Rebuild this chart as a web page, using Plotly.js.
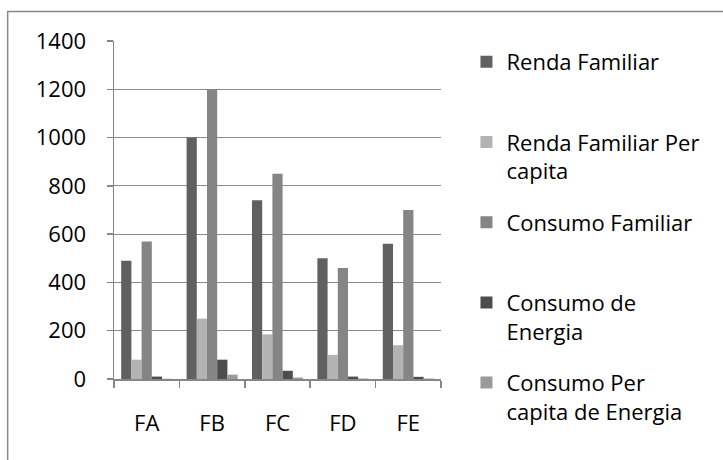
<!DOCTYPE html>
<html>
<head>
<meta charset="utf-8">
<script src="https://cdn.plot.ly/plotly-3.0.1.min.js"></script>
<style>
  html, body { margin: 0; padding: 0; background: #ffffff; }
  #chart { width: 723px; height: 460px; }
</style>
</head>
<body>
<div id="chart"></div>
<script>
// ---- Data ----
var categories = ['FA', 'FB', 'FC', 'FD', 'FE'];
var rendaFamiliar = [490, 1000, 740, 500, 560];
var rendaFamiliarPerCapita = [80, 250, 185, 100, 140];
var consumoFamiliar = [570, 1200, 850, 460, 700];
var consumoEnergia = [10, 80, 34, 10, 9];
var consumoPerCapitaEnergia = [1, 18, 6, 2, 2];
var seriesNames = [
  'Renda Familiar<br>\u00a0',
  'Renda Familiar Per<br>capita',
  'Consumo Familiar<br>\u00a0',
  'Consumo de<br>Energia',
  'Consumo Per<br>capita de Energia'
];
var yTicks = [0, 200, 400, 600, 800, 1000, 1200, 1400];

var seriesValues = [rendaFamiliar, rendaFamiliarPerCapita, consumoFamiliar, consumoEnergia, consumoPerCapitaEnergia];
var seriesColors = ['#606060', '#b3b3b3', '#858585', '#4d4d4d', '#9a9a9a'];

var FONT = '"Open Sans", "DejaVu Sans", sans-serif';

var traces = seriesValues.map(function (vals, i) {
  return {
    type: 'bar',
    name: seriesNames[i],
    x: categories,
    y: vals,
    legendgroup: 'g' + i,
    marker: { color: seriesColors[i], line: { width: 0 } }
  };
});

// plot area pixel geometry
var L = 114, R = 441.5, T = 41, B = 379.5;
var W = 723, H = 460;
function px2x(px) { return (px - L) / (R - L); }
function px2y(py) { return (B - py) / (B - T); }

var layout = {
  width: W,
  height: H,
  margin: { l: L, r: W - R, t: T, b: H - B, pad: 0 },
  paper_bgcolor: '#ffffff',
  plot_bgcolor: '#ffffff',
  font: { family: FONT, size: 22, color: '#000000' },
  barmode: 'group',
  bargap: 0.22,
  bargroupgap: 0,
  showlegend: true,
  legend: {
    x: px2x(467),
    y: px2y(41),
    xanchor: 'left',
    yanchor: 'top',
    valign: 'top',
    tracegroupgap: 20,
    maxheight: 460,
    font: { family: FONT, size: 22, color: '#000000' },
    bgcolor: 'rgba(0,0,0,0)',
    borderwidth: 0
  },
  xaxis: {
    type: 'category',
    showgrid: false,
    showline: true,
    linecolor: '#868686',
    linewidth: 1.5,
    ticks: 'outside',
    tickson: 'boundaries',
    ticklen: 7,
    tickwidth: 1.5,
    tickcolor: '#868686',
    ticklabelstandoff: 24,
    tickfont: { family: FONT, size: 22, color: '#000000' },
    zeroline: false,
    fixedrange: true
  },
  yaxis: {
    range: [0, 1400],
    tickvals: yTicks,
    ticktext: yTicks.map(String),
    showgrid: true,
    gridcolor: '#8c8c8c',
    gridwidth: 1.2,
    showline: true,
    linecolor: '#868686',
    linewidth: 1.5,
    ticks: 'outside',
    ticklen: 6,
    tickwidth: 1.5,
    tickcolor: '#868686',
    ticklabelstandoff: 16,
    tickfont: { family: FONT, size: 22, color: '#000000' },
    zeroline: false,
    fixedrange: true
  },
  shapes: [
    {
      type: 'rect',
      xref: 'paper', yref: 'paper',
      x0: px2x(7.5), x1: px2x(760),
      y0: px2y(11.5), y1: px2y(520),
      line: { color: '#888888', width: 1.5 },
      fillcolor: 'rgba(0,0,0,0)',
      layer: 'below'
    }
  ]
};

Plotly.newPlot('chart', traces, layout, { displayModeBar: false, staticPlot: true });
</script>
</body>
</html>
